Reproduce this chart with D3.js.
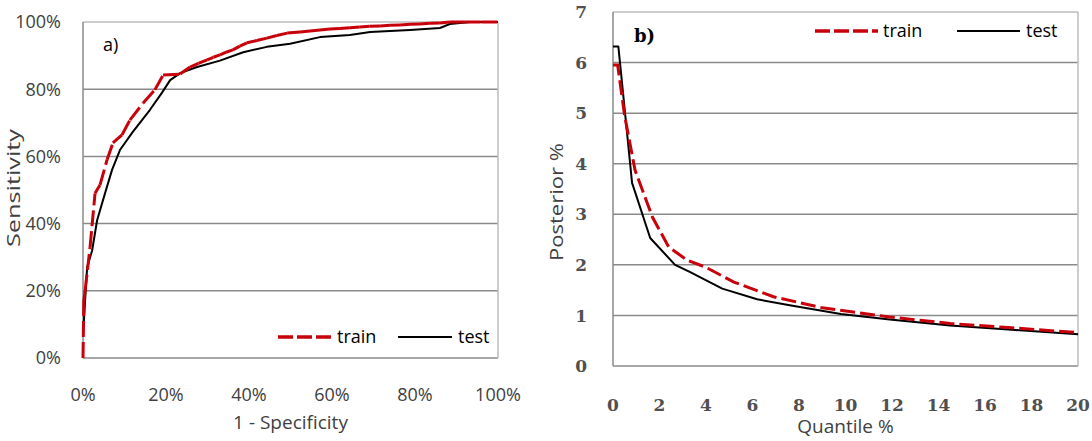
<!DOCTYPE html>
<meta charset="utf-8">
<script src="https://d3js.org/d3.v7.min.js"></script>
<style>
  body { margin: 0; background: #fff; }
  svg { display: block; }
  .tick-a { font-family: "Open Sans", sans-serif; font-size: 18px; fill: #404040; }
  .tick-b { font-family: "DejaVu Serif", serif; font-size: 17px; font-weight: bold; fill: #505050; }
  .title { font-family: "Open Sans", sans-serif; font-size: 19px; fill: #404040; }
  .legend { font-family: "Open Sans", sans-serif; font-size: 18px; fill: #000; }
</style>
<body>
<svg id="chart" width="1092" height="441"></svg>
<script>
"use strict"

// ---- panel a) ROC curves ----
var rocTrainX = [0, 0.002, 0.005, 0.017, 0.029, 0.041, 0.058, 0.072, 0.094, 0.113, 0.145, 0.173, 0.193, 0.234, 0.258, 0.278, 0.299, 0.314, 0.330, 0.345, 0.361, 0.378, 0.395, 0.419, 0.443, 0.467, 0.492, 0.523, 0.547, 0.571, 0.595, 0.619, 0.643, 0.667, 0.691, 0.716, 0.740, 0.764, 0.788, 0.812, 0.836, 0.860, 0.884, 0.92, 0.96, 1]
var rocTrainY = [0, 0.17, 0.20, 0.33, 0.49, 0.515, 0.59, 0.64, 0.664, 0.708, 0.759, 0.798, 0.842, 0.845, 0.866, 0.877, 0.887, 0.895, 0.902, 0.910, 0.917, 0.928, 0.938, 0.945, 0.952, 0.960, 0.967, 0.970, 0.973, 0.976, 0.979, 0.981, 0.983, 0.985, 0.987, 0.988, 0.990, 0.991, 0.993, 0.994, 0.996, 0.997, 1, 1, 1, 1]
var rocTestX = [0, 0.002, 0.005, 0.01, 0.022, 0.034, 0.053, 0.07, 0.089, 0.12, 0.161, 0.19, 0.21, 0.234, 0.275, 0.33, 0.386, 0.443, 0.499, 0.571, 0.643, 0.692, 0.788, 0.86, 0.884, 0.933, 1]
var rocTestY = [0.09, 0.104, 0.17, 0.27, 0.32, 0.41, 0.49, 0.56, 0.619, 0.673, 0.738, 0.789, 0.827, 0.848, 0.866, 0.885, 0.91, 0.926, 0.935, 0.955, 0.961, 0.970, 0.976, 0.982, 0.994, 1, 1]
var rocTicks = [0, 0.2, 0.4, 0.6, 0.8, 1]

// ---- panel b) posterior by quantile ----
var postTrainX = [0, 0.2, 0.5, 0.95, 1.7, 2.4, 3.2, 4.0, 5.2, 6.9, 9.0, 11.9, 14.5, 17, 20]
var postTrainY = [5.95, 5.95, 4.95, 3.87, 2.94, 2.35, 2.09, 1.95, 1.66, 1.37, 1.15, 0.97, 0.84, 0.76, 0.66]
var postTestX = [0, 0.23, 0.82, 1.6, 2.67, 3.3, 4.7, 6.2, 7.6, 9.8, 11.9, 14.5, 17, 20]
var postTestY = [6.32, 6.32, 3.62, 2.53, 2.0, 1.86, 1.53, 1.32, 1.2, 1.03, 0.92, 0.8, 0.72, 0.63]
var postXTicks = [0, 2, 4, 6, 8, 10, 12, 14, 16, 18, 20]
var postYTicks = [0, 1, 2, 3, 4, 5, 6, 7]

var seriesNames = ["train", "test"]

var RED = "#c8000a"
var GRID = "#8a8a8a"
var EDGE = "#bdbdbd"

var svg = d3.select("#chart")
svg.append("rect").attr("width", 1092).attr("height", 441).attr("fill", "#fff")

function zip(xs, ys) { return xs.map(function(x, i) { return [x, ys[i]] }) }

function panel(opt) {
  var x = d3.scaleLinear().domain(opt.xdom).range(opt.xr)
  var y = d3.scaleLinear().domain(opt.ydom).range(opt.yr)
  var g = svg.append("g")

  // grid lines (the top one is the lighter frame)
  opt.yticks.forEach(function(t) {
    var top = t === opt.ydom[1]
    g.append("line")
      .attr("x1", x.range()[0]).attr("x2", x.range()[1])
      .attr("y1", y(t)).attr("y2", y(t))
      .attr("stroke", top ? EDGE : GRID).attr("stroke-width", 1.5)
  })
  // right frame
  g.append("line")
    .attr("x1", x.range()[1]).attr("x2", x.range()[1])
    .attr("y1", y.range()[0]).attr("y2", y.range()[1])
    .attr("stroke", EDGE).attr("stroke-width", 1.5)
  // left axis line
  g.append("line")
    .attr("x1", x.range()[0]).attr("x2", x.range()[0])
    .attr("y1", y.range()[0]).attr("y2", y.range()[1])
    .attr("stroke", GRID).attr("stroke-width", 1.5)

  // tick labels
  g.selectAll(".yt").data(opt.yticks).enter().append("text")
    .attr("class", opt.tickClass)
    .attr("x", opt.ylabX).attr("y", function(d) { return y(d) })
    .attr("dy", "0.36em").attr("text-anchor", "end")
    .text(opt.fmt)
  g.selectAll(".xt").data(opt.xticks).enter().append("text")
    .attr("class", opt.tickClass)
    .attr("x", function(d) { return x(d) }).attr("y", opt.xlabY)
    .attr("text-anchor", "middle")
    .text(opt.fmt)

  // axis titles
  g.append("text").attr("class", "title")
    .attr("x", (x.range()[0] + x.range()[1]) / 2).attr("y", opt.xtitleY)
    .attr("text-anchor", "middle").text(opt.xtitle)
  g.append("text").attr("class", "title")
    .attr("transform", "translate(" + opt.ytitleX + "," + opt.ytitleCY + ") rotate(-90)")
    .attr("text-anchor", "middle")
    .attr("textLength", opt.ytitleLen).attr("lengthAdjust", "spacingAndGlyphs")
    .text(opt.ytitle)

  var line = d3.line().x(function(d) { return x(d[0]) }).y(function(d) { return y(d[1]) })
  g.append("path").datum(opt.test).attr("d", line)
    .attr("fill", "none").attr("stroke", "#000").attr("stroke-width", 2)
    .attr("stroke-linejoin", "round")

  if (opt.dashPerSegment) {
    // the dash pattern restarts on every segment, so dense parts come out solid
    var segs = d3.pairs(opt.train)
    g.selectAll(".seg").data(segs).enter().append("path")
      .attr("d", line)
      .attr("fill", "none").attr("stroke", RED).attr("stroke-width", 3)
      .attr("stroke-dasharray", "16,5")
  } else {
    g.append("path").datum(opt.train).attr("d", line)
      .attr("fill", "none").attr("stroke", RED).attr("stroke-width", 3)
      .attr("stroke-dasharray", "15,5")
  }

  // panel letter
  g.append("text")
    .attr("x", opt.letterX).attr("y", opt.letterY)
    .style("font-family", opt.letterFont).style("font-size", "18px")
    .style("font-weight", opt.letterWeight).style("fill", "#000")
    .text(opt.letter)

  // legend
  var L = opt.legend
  g.append("line").attr("x1", L.x0).attr("x2", L.x0 + L.w).attr("y1", L.y).attr("y2", L.y)
    .attr("stroke", RED).attr("stroke-width", 3.5).attr("stroke-dasharray", "15,4")
  g.append("text").attr("class", "legend").attr("x", L.x0 + L.w + 5).attr("y", L.y).attr("dy", "0.35em")
    .text(seriesNames[0])
  g.append("line").attr("x1", L.x1).attr("x2", L.x1 + L.w).attr("y1", L.y).attr("y2", L.y)
    .attr("stroke", "#000").attr("stroke-width", 2)
  g.append("text").attr("class", "legend").attr("x", L.x1 + L.w + 6).attr("y", L.y).attr("dy", "0.35em")
    .text(seriesNames[1])
}

panel({
  xdom: [0, 1], xr: [83, 498], ydom: [0, 1], yr: [358, 22],
  xticks: rocTicks, yticks: rocTicks, fmt: d3.format(".0%"), tickClass: "tick-a",
  ylabX: 61, xlabY: 401,
  xtitle: "1 - Specificity", xtitleY: 429,
  ytitle: "Sensitivity", ytitleX: 20, ytitleCY: 188, ytitleLen: 118,
  train: zip(rocTrainX, rocTrainY), test: zip(rocTestX, rocTestY), dashPerSegment: true,
  letter: "a)", letterX: 103, letterY: 51, letterFont: "Open Sans, sans-serif", letterWeight: "normal",
  legend: { y: 337, x0: 278, x1: 398, w: 54 }
})

panel({
  xdom: [0, 20], xr: [613, 1078], ydom: [0, 7], yr: [366, 12],
  xticks: postXTicks, yticks: postYTicks, fmt: d3.format("d"), tickClass: "tick-b",
  ylabX: 587, xlabY: 411,
  xtitle: "Quantile %", xtitleY: 433,
  ytitle: "Posterior %", ytitleX: 563, ytitleCY: 202, ytitleLen: 118,
  train: zip(postTrainX, postTrainY), test: zip(postTestX, postTestY), dashPerSegment: false,
  letter: "b)", letterX: 634, letterY: 42, letterFont: "DejaVu Serif, serif", letterWeight: "bold",
  legend: { y: 31, x0: 815, x1: 957, w: 63 }
})
</script>
</body>
